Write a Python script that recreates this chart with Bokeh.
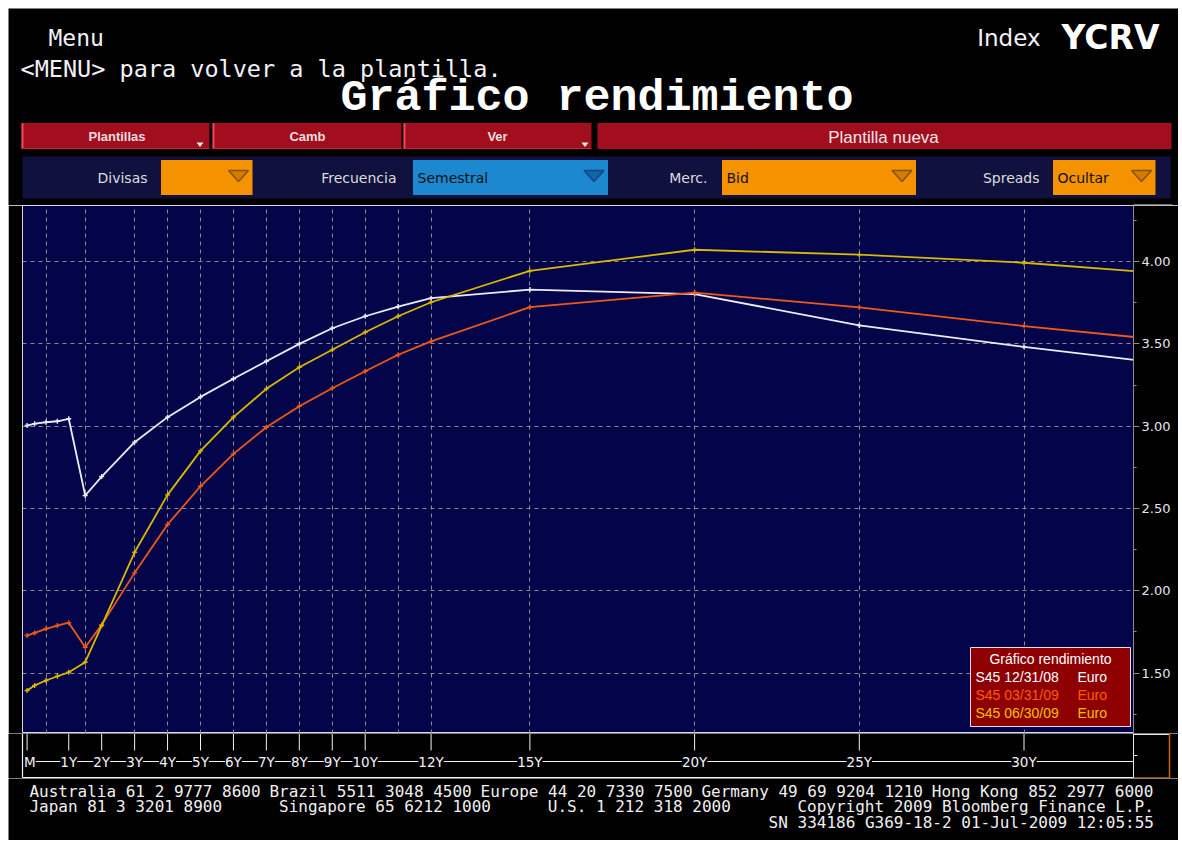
import numpy as np
from bokeh.plotting import figure
from bokeh.layouts import column
from bokeh.models import (Range1d, LinearAxis, FixedTicker, PrintfTickFormatter,
                          Grid, ColumnDataSource, LabelSet)
from bokeh.core.properties import value
from bokeh.embed import file_html
from bokeh.resources import INLINE

# ---------------- data ----------------
tenor_years = [1/12, 0.25, 0.5, 0.75, 1, 1.5, 2, 3, 4, 5, 6, 7, 8, 9, 10, 11, 12, 15, 20, 25, 30, 40]
yield_s45_123108 = [3.004, 3.015, 3.024, 3.030, 3.045, 2.579, 2.694, 2.903, 3.055, 3.178, 3.288,
                    3.395, 3.500, 3.595, 3.668, 3.727, 3.778, 3.830, 3.803, 3.612, 3.482, 3.245]
yield_s45_033109 = [1.728, 1.744, 1.769, 1.789, 1.806, 1.657, 1.793, 2.109, 2.403, 2.635, 2.832,
                    2.994, 3.121, 3.231, 3.334, 3.434, 3.515, 3.723, 3.812, 3.722, 3.608, 3.410]
yield_s45_063009 = [1.394, 1.425, 1.455, 1.481, 1.505, 1.566, 1.789, 2.234, 2.583, 2.850, 3.055,
                    3.227, 3.358, 3.464, 3.571, 3.668, 3.753, 3.944, 4.072, 4.042, 3.993, 3.840]

series_labels = ["S45 12/31/08", "S45 03/31/09", "S45 06/30/09"]
series_currency = ["Euro", "Euro", "Euro"]
series_colors = ["#ECECF8", "#EE5A16", "#D8B800"]
legend_text_colors = ["#FFFFFF", "#FF5A00", "#F0C000"]

axis_tenors = [1/12, 1, 2, 3, 4, 5, 6, 7, 8, 9, 10, 12, 15, 20, 25, 30]
axis_labels = ["M", "1Y", "2Y", "3Y", "4Y", "5Y", "6Y", "7Y", "8Y", "9Y", "10Y",
               "12Y", "15Y", "20Y", "25Y", "30Y"]
grid_tenors = [0.5, 1.5, 3, 4, 5, 6, 7, 8, 9, 10, 11, 12, 15, 20, 25, 30]
yield_ticks = [1.5, 2.0, 2.5, 3.0, 3.5, 4.0]
yield_minor_ticks = [1.25, 1.75, 2.25, 2.75, 3.25, 3.75, 4.25]

footer_lines = [
    [("Australia 61 2 9777 8600", 0), ("Brazil 5511 3048 4500", 25),
     ("Europe 44 20 7330 7500", 47), ("Germany 49 69 9204 1210", 70),
     ("Hong Kong 852 2977 6000", 94)],
    [("Japan 81 3 3201 8900", 0), ("Singapore 65 6212 1000", 26),
     ("U.S. 1 212 318 2000", 54), ("Copyright 2009 Bloomberg Finance L.P.", 80)],
    [("SN 334186 G369-18-2 01-Jul-2009 12:05:55", 77)],
]

# ---------------- scale (Bloomberg-like stretched short end) ----------------
SHORT_END = 1.38
def tenor_pos(t):
    t = np.asarray(t, dtype=float)
    return np.where(t >= 1, t, 1 - (1 - t) * SHORT_END)

# page geometry (pixels)
PAGE_L, PAGE_R = 8, 1178
FRAME_L, FRAME_R, FRAME_T, FRAME_B = 22, 1133, 205, 733
PX_ZERO, PX_PER_YEAR = 35.3, 32.94
PX_FOUR, PX_PER_UNIT = 261.1, 164.6
X0 = (FRAME_L - PX_ZERO) / PX_PER_YEAR
X1 = (FRAME_R - PX_ZERO) / PX_PER_YEAR
Y1 = 4 + (PX_FOUR - FRAME_T) / PX_PER_UNIT
Y0 = 4 - (FRAME_B - PX_FOUR) / PX_PER_UNIT

def chart_x(px):
    return X0 + (np.asarray(px, dtype=float) - FRAME_L) * (X1 - X0) / (FRAME_R - FRAME_L)

def chart_y(py):
    return Y1 - (np.asarray(py, dtype=float) - FRAME_T) * (Y1 - Y0) / (FRAME_B - FRAME_T)

NAVY = "#04044A"
WHITE = "#F2F2F6"

def canvas(y_top, y_bottom, x_range=None):
    return figure(width=PAGE_R - PAGE_L, height=y_bottom - y_top,
                  x_range=x_range if x_range is not None else Range1d(PAGE_L, PAGE_R),
                  y_range=Range1d(y_bottom, y_top),
                  x_axis_type=None, y_axis_type=None, toolbar_location=None,
                  output_backend="svg", min_border=0, frame_align=False,
                  background_fill_color="black", border_fill_color="black",
                  outline_line_color=None)

# ---------------- header ----------------
hdr = canvas(PAGE_L, FRAME_T)
mono = value("DejaVu Sans Mono")
hdr.text(x=[48], y=[37], text=["Menu"], text_font=mono, text_font_size=value("23px"),
         text_color=WHITE, text_baseline="middle")
hdr.text(x=[20], y=[68], text=["<MENU> para volver a la plantilla."], text_font=mono,
         text_font_size=value("23.5px"), text_color=WHITE, text_baseline="middle")
hdr.text(x=[596.5], y=[98], text=["Gráfico rendimiento"], text_font=value("Liberation Mono"),
         text_font_style="bold", text_font_size=value("45px"), text_color="#FFFFFF",
         text_align="center", text_baseline="middle")
hdr.text(x=[1040], y=[37], text=["Index"], text_font=value("DejaVu Sans"),
         text_font_size=value("23px"), text_color=WHITE, text_align="right", text_baseline="middle")
hdr.text(x=[1110], y=[37], text=["YCRV"], text_font=value("DejaVu Sans"), text_font_style="bold",
         text_font_size=value("33px"), text_color="#FFFFFF", text_align="center", text_baseline="middle")

# red buttons
hdr.quad(left=[21, 212, 403, 597], right=[209, 401, 591, 1171], top=122.5, bottom=148.5,
         fill_color="#A20E1E", line_color=None)
hdr.segment(x0=[22, 213, 404], y0=122.5, x1=[22, 213, 404], y1=148.5, line_color="#F04458", line_width=2)
hdr.segment(x0=[21, 212, 403], y0=148, x1=[209, 401, 591], y1=148, line_color="#C42838", line_width=1)
hdr.patches(xs=[[196, 203, 199.5], [581, 588, 584.5]], ys=[[142, 142, 146.5], [142, 142, 146.5]],
            fill_color="#F0F0F0", line_color=None)
hdr.text(x=[116.5, 307, 497], y=[135.5] * 3, text=["Plantillas", "Camb", "Ver"],
         text_font=value("Liberation Sans"), text_font_style="bold", text_font_size=value("13px"),
         text_color="#E8DEDE", text_align="center", text_baseline="middle")
hdr.text(x=[883], y=[136.5], text=["Plantilla nueva"], text_font=value("Liberation Sans"),
         text_font_size=value("17px"), text_color="#F2E8E8", text_align="center", text_baseline="middle")

# option bar
hdr.quad(left=[22], right=[1170], top=156, bottom=198, fill_color="#11113F", line_color=None)
hdr.text(x=[147, 396, 707, 1039], y=[177] * 4, text=["Divisas", "Frecuencia", "Merc.", "Spreads"],
         text_font=value("DejaVu Sans"), text_font_size=value("14px"), text_color="#DCDCDC",
         text_align="right", text_baseline="middle")
box_l = [160.5, 412.5, 721.5, 1052.5]
box_r = [252, 607.5, 915.5, 1155]
box_c = ["#F59200", "#1C88D0", "#F59200", "#F59200"]
hdr.quad(left=box_l, right=box_r, top=159.5, bottom=194.5, fill_color=box_c, line_color=None)
tri_xs = [[r - 24, r - 4, r - 14] for r in box_r]
tri_ys = [[170, 170, 181]] * 4
hdr.patches(xs=tri_xs, ys=tri_ys,
            fill_color=["#D07E00", "#1462A8", "#D07E00", "#D07E00"],
            line_color=["#8A5200", "#0C4A80", "#8A5200", "#8A5200"], line_width=1.5)
hdr.text(x=[417, 726, 1057], y=[177] * 3, text=["Semestral", "Bid", "Ocultar"],
         text_font=value("DejaVu Sans"), text_font_size=value("14px"), text_color="#101010",
         text_baseline="middle")
hdr.segment(x0=[1133], y0=[204.5], x1=[1172], y1=[204.5], line_color="#D8D8D8", line_width=1)

# ---------------- chart ----------------
chart = figure(frame_width=FRAME_R - FRAME_L, frame_height=FRAME_B - FRAME_T,
               x_range=Range1d(X0, X1), y_range=Range1d(Y0, Y1),
               x_axis_type=None, y_axis_type=None, toolbar_location=None,
               output_backend="svg", min_border_left=FRAME_L - PAGE_L,
               min_border_right=PAGE_R - FRAME_R, min_border_top=0, min_border_bottom=0,
               frame_align=False,
               background_fill_color=NAVY, border_fill_color="black",
               outline_line_color="#D8D8D8", outline_line_width=1)

chart.add_layout(Grid(dimension=0, ticker=FixedTicker(ticks=list(tenor_pos(grid_tenors))),
                      grid_line_color="#8C8C8C", grid_line_dash="4 4", grid_line_width=1))
chart.add_layout(Grid(dimension=1, ticker=FixedTicker(ticks=yield_ticks),
                      grid_line_color="#8C8C8C", grid_line_dash="4 4", grid_line_width=1))

yax = LinearAxis(ticker=FixedTicker(ticks=yield_ticks, minor_ticks=yield_minor_ticks),
                 formatter=PrintfTickFormatter(format="%.2f"),
                 axis_line_color="#8C8C8C", major_tick_line_color="#8C8C8C",
                 minor_tick_line_color="#8C8C8C", major_tick_in=0, major_tick_out=6,
                 minor_tick_in=0, minor_tick_out=3, major_label_standoff=2,
                 major_label_text_color="#E6E6E6", major_label_text_font="DejaVu Sans",
                 major_label_text_font_size="13px")
chart.add_layout(yax, "right")

xpos = tenor_pos(tenor_years)
for ys, col in zip([yield_s45_123108, yield_s45_033109, yield_s45_063009], series_colors):
    chart.line(x=xpos, y=ys, line_color=col, line_width=1.8)
    chart.scatter(x=xpos, y=ys, marker="cross", size=5, line_color=col, line_width=1.4)

# legend box
chart.quad(left=[chart_x(970)], right=[chart_x(1130)], top=[chart_y(647)], bottom=[chart_y(726)],
           fill_color="#8E0000", line_color="#E0E0E0", line_width=1)
chart.text(x=[chart_x(1050)], y=[chart_y(658.5)], text=["Gráfico rendimiento"],
           text_font=value("Liberation Sans"), text_font_size=value("14px"), text_color="#FFFFFF",
           text_align="center", text_baseline="middle")
leg = ColumnDataSource(dict(xn=[chart_x(975)] * 3, xc=[chart_x(1077)] * 3,
                            y=list(chart_y([676, 694.5, 712.5])),
                            name=series_labels, cur=series_currency, color=legend_text_colors))
chart.text(x="xn", y="y", text="name", source=leg, text_color="color",
           text_font=value("Liberation Sans"), text_font_size=value("14px"), text_baseline="middle")
chart.text(x="xc", y="y", text="cur", source=leg, text_color="color",
           text_font=value("Liberation Sans"), text_font_size=value("14px"), text_baseline="middle")

# ---------------- x axis strip ----------------
strip = canvas(FRAME_B, 778, x_range=Range1d(float(chart_x(PAGE_L)), float(chart_x(PAGE_R))))
tick_x = tenor_pos(axis_tenors)
strip.segment(x0=tick_x, y0=733, x1=tick_x, y1=750, line_color=WHITE, line_width=1)
strip.segment(x0=[tick_x[0]], y0=[761], x1=[X1], y1=[761], line_color=WHITE, line_width=1)
strip.segment(x0=[X0, X0], y0=[777, 733], x1=[X1, X0], y1=[777, 777], line_color=WHITE, line_width=1.2)
xb = float(chart_x(1169))
strip.segment(x0=[X1, X1], y0=[734, 733], x1=[xb, X1], y1=[734, 778], line_color="#E8E8E8", line_width=1)
strip.segment(x0=[xb, X1], y0=[733, 777.5], x1=[xb, xb], y1=[778, 777.5], line_color="#C86400", line_width=1.5)
strip.segment(x0=[X1], y0=[755], x1=[float(chart_x(1137))], y1=[755], line_color="#E8E8E8", line_width=1)

lab_font = value("DejaVu Sans")
lab_src = ColumnDataSource(dict(x=tick_x[1:], y=[761] * (len(tick_x) - 1), t=axis_labels[1:]))
strip.add_layout(LabelSet(x="x", y="y", text="t", source=lab_src, text_align="center",
                          text_baseline="middle", text_color=WHITE, text_font=lab_font,
                          text_font_size=value("13.5px"), background_fill_color="black"))
m_src = ColumnDataSource(dict(x=tick_x[:1], y=[761], t=axis_labels[:1]))
strip.add_layout(LabelSet(x="x", y="y", text="t", source=m_src, text_align="left",
                          text_baseline="middle", text_color=WHITE, text_font=lab_font,
                          text_font_size=value("13.5px"), background_fill_color="black",
                          x_offset=-3))

# ---------------- footer ----------------
foot = canvas(778, 840)
COL0, COLW = 28.9, 9.6
fx, fy, ft = [], [], []
for row_y, segs in zip([790.7, 806.2, 821.7], footer_lines):
    for txt, col in segs:
        fx.append(COL0 + col * COLW)
        fy.append(row_y)
        ft.append(txt)
foot.text(x=fx, y=fy, text=ft, text_font=mono, text_font_size=value("16px"),
          text_color="#F0F0F0", text_baseline="middle")

layout = column(hdr, chart, strip, foot, spacing=0, margin=(8, 0, 0, 8))
open("out.html", "w").write(file_html(layout, INLINE))
